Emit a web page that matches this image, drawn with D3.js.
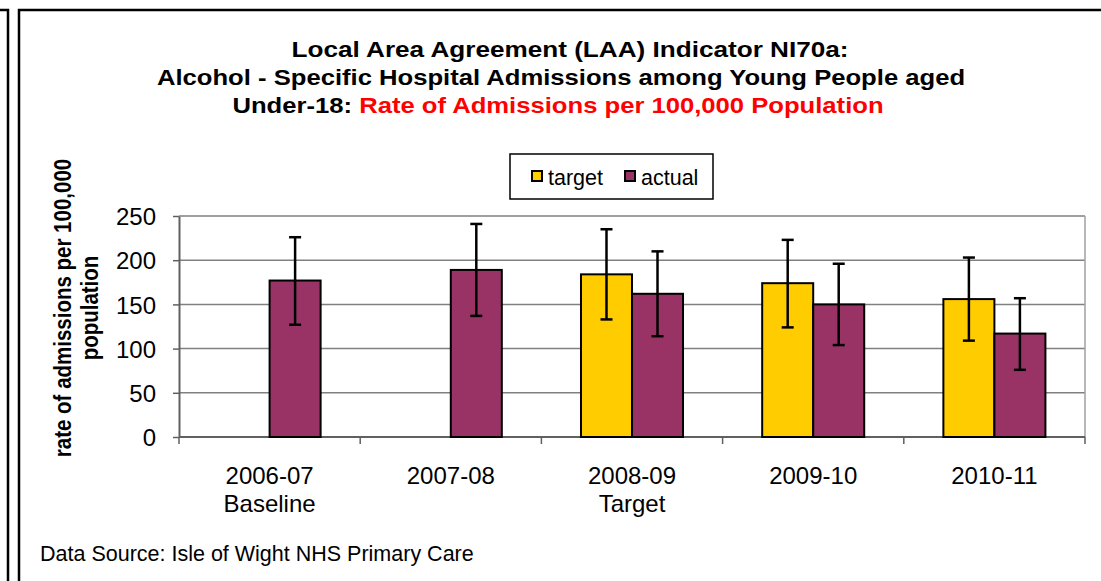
<!DOCTYPE html>
<html lang="en">
<head>
<meta charset="UTF-8">
<title>NI70a Alcohol Admissions</title>
<style>
  body { margin: 0; background: #fff; }
  svg { display: block; font-family: Arial, "Liberation Sans", sans-serif; }
</style>
</head>
<body>
<div id="content"></div>
<script src="https://d3js.org/d3.v7.min.js"></script>
<script>
// chart values
var categories = ["2006-07", "2007-08", "2008-09", "2009-10", "2010-11"];
var subLabels = ["Baseline", "", "Target", "", ""];
var seriesNames = ["target", "actual"];
var targetValues = [null, null, 184, 174, 156];
var targetLow = [null, null, 133, 124, 109];
var targetHigh = [null, null, 235, 223, 203];
var actualValues = [177, 189, 162, 150, 117];
var actualLow = [127, 137, 114, 104, 76];
var actualHigh = [226, 241, 210, 196, 157];
var yTicks = [0, 50, 100, 150, 200, 250];

var colors = { target: "#FFCC00", actual: "#993366" };

var W = 1101, H = 581;
var plot = { left: 179, right: 1085, top: 216, bottom: 437 };

var svg = d3.select("#content").append("svg")
    .attr("width", W)
    .attr("height", H);

// frames (neighbouring chart edge + this chart's border)
svg.append("path")
    .attr("d", "M0,10 H8 V" + H)
    .attr("fill", "none")
    .attr("stroke", "#000")
    .attr("stroke-width", 2.5);
svg.append("rect")
    .attr("x", 19).attr("y", 10)
    .attr("width", 1120).attr("height", 620)
    .attr("fill", "#fff")
    .attr("stroke", "#000")
    .attr("stroke-width", 2.5);

// title - the original is stretched sideways a bit
var sx = 1.165, tcx = 563;
var title = svg.append("g")
    .attr("transform", "translate(" + tcx + ",0) scale(" + sx + ",1)")
    .attr("font-weight", "bold")
    .attr("font-size", "22px")
    .attr("text-anchor", "middle");
title.append("text").attr("x", (570 - tcx) / sx).attr("y", 57)
    .attr("textLength", 557 / sx).attr("lengthAdjust", "spacingAndGlyphs")
    .text("Local Area Agreement (LAA) Indicator NI70a:");
title.append("text").attr("x", (561 - tcx) / sx).attr("y", 85)
    .text("Alcohol - Specific Hospital Admissions among Young People aged");
var t3 = title.append("text").attr("x", (558 - tcx) / sx).attr("y", 113);
t3.append("tspan").text("Under-18: ");
t3.append("tspan").attr("fill", "#FF0000").text("Rate of Admissions per 100,000 Population");

// scales
var y = d3.scaleLinear().domain([0, 250]).range([plot.bottom, plot.top]);
var x0 = d3.scaleBand().domain(categories).range([plot.left, plot.right]).padding(0);
var x1 = d3.scaleBand().domain(seriesNames).range([0, x0.bandwidth()])
    .paddingInner(0).paddingOuter(0.776);

// gridlines
svg.append("g").selectAll("line")
    .data(yTicks.slice(1))
    .enter().append("line")
    .attr("x1", plot.left).attr("x2", plot.right)
    .attr("y1", function (d) { return y(d); })
    .attr("y2", function (d) { return y(d); })
    .attr("stroke", "#808080")
    .attr("stroke-width", 1.5);

// plot area right edge
svg.append("line")
    .attr("x1", plot.right).attr("x2", plot.right)
    .attr("y1", plot.top).attr("y2", plot.bottom)
    .attr("stroke", "#a0a0a0").attr("stroke-width", 1.5);

// y axis
var yAxis = svg.append("g")
    .attr("transform", "translate(" + plot.left + ",0)")
    .call(d3.axisLeft(y).tickValues(yTicks).tickSize(6).tickPadding(17).tickSizeOuter(0));
yAxis.select(".domain").attr("stroke", "#606060").attr("stroke-width", 2);
yAxis.selectAll(".tick line").attr("stroke", "#606060").attr("stroke-width", 1.5);
yAxis.selectAll(".tick text")
    .attr("font-size", "24px")
    .attr("font-family", "Arial, 'Liberation Sans', sans-serif")
    .attr("fill", "#000")
    .attr("dy", "0.36em");

// x axis: ticks at category boundaries
var xAxis = svg.append("g");
xAxis.append("line")
    .attr("x1", plot.left).attr("x2", plot.right)
    .attr("y1", plot.bottom).attr("y2", plot.bottom)
    .attr("stroke", "#606060").attr("stroke-width", 2);
var bounds = categories.map(function (c) { return x0(c); }).concat([x0(categories[categories.length - 1]) + x0.bandwidth()]);
xAxis.selectAll("line.tk")
    .data(bounds)
    .enter().append("line")
    .attr("class", "tk")
    .attr("x1", function (d) { return d; }).attr("x2", function (d) { return d; })
    .attr("y1", plot.bottom).attr("y2", plot.bottom + 7)
    .attr("stroke", "#606060").attr("stroke-width", 1.5);

var catLabels = xAxis.selectAll("text.cat")
    .data(categories)
    .enter().append("text")
    .attr("class", "cat")
    .attr("text-anchor", "middle")
    .attr("font-size", "24px")
    .attr("x", function (d) { return x0(d) + x0.bandwidth() / 2; })
    .attr("y", 484);
catLabels.append("tspan").text(function (d) { return d; });
catLabels.append("tspan")
    .attr("x", function (d) { return x0(d) + x0.bandwidth() / 2; })
    .attr("dy", 28)
    .text(function (d, i) { return subLabels[i]; });

// bars
var rows = [];
categories.forEach(function (c, i) {
    if (targetValues[i] != null)
        rows.push({ cat: c, series: "target", v: targetValues[i], lo: targetLow[i], hi: targetHigh[i] });
    if (actualValues[i] != null)
        rows.push({ cat: c, series: "actual", v: actualValues[i], lo: actualLow[i], hi: actualHigh[i] });
});

svg.append("g").selectAll("rect")
    .data(rows)
    .enter().append("rect")
    .attr("x", function (d) { return x0(d.cat) + x1(d.series); })
    .attr("y", function (d) { return y(d.v); })
    .attr("width", x1.bandwidth())
    .attr("height", function (d) { return y(0) - y(d.v); })
    .attr("fill", function (d) { return colors[d.series]; })
    .attr("stroke", "#000")
    .attr("stroke-width", 2);

// error bars
var err = svg.append("g").attr("stroke", "#000").attr("stroke-width", 2.5);
rows.forEach(function (d) {
    var cx = x0(d.cat) + x1(d.series) + x1.bandwidth() / 2;
    err.append("line").attr("x1", cx).attr("x2", cx).attr("y1", y(d.hi)).attr("y2", y(d.lo));
    err.append("line").attr("x1", cx - 6).attr("x2", cx + 6).attr("y1", y(d.hi)).attr("y2", y(d.hi));
    err.append("line").attr("x1", cx - 6).attr("x2", cx + 6).attr("y1", y(d.lo)).attr("y2", y(d.lo));
});

// y axis title (also stretched sideways in the original)
var yt = svg.append("text")
    .attr("transform", "translate(71,308) scale(1.18,1) rotate(-90)")
    .attr("text-anchor", "middle")
    .attr("font-weight", "bold")
    .attr("font-size", "20.5px");
yt.append("tspan").attr("x", 0).attr("y", 0).text("rate of admissions per 100,000");
yt.append("tspan").attr("x", 0).attr("dy", 23).text("population");

// legend
var legend = svg.append("g");
legend.append("rect")
    .attr("x", 510).attr("y", 154)
    .attr("width", 203).attr("height", 45)
    .attr("fill", "#fff").attr("stroke", "#000").attr("stroke-width", 1.5);
var legendX = { target: 532, actual: 625 };
seriesNames.forEach(function (s) {
    legend.append("rect")
        .attr("x", legendX[s]).attr("y", 171)
        .attr("width", 10).attr("height", 10)
        .attr("fill", colors[s]).attr("stroke", "#000").attr("stroke-width", 2);
    legend.append("text")
        .attr("x", legendX[s] + 16).attr("y", 185)
        .attr("font-size", "21.5px")
        .text(s);
});

// source note
svg.append("text")
    .attr("x", 40).attr("y", 561)
    .attr("font-size", "21.5px")
    .text("Data Source: Isle of Wight NHS Primary Care");
</script>
</body>
</html>
